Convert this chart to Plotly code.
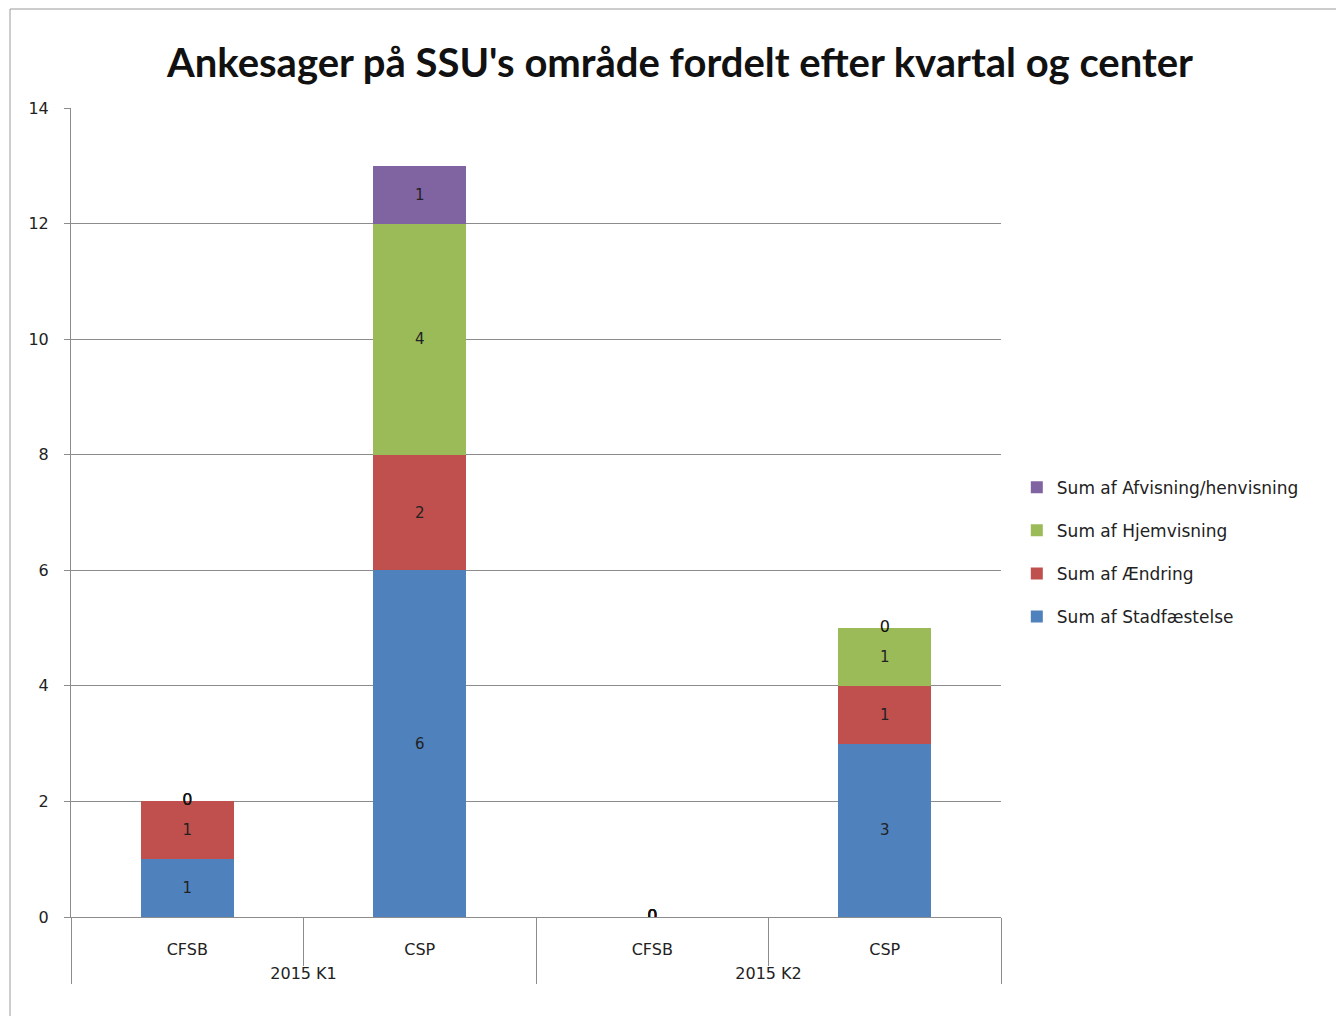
import plotly.graph_objects as go

quarters = ["2015 K1", "2015 K1", "2015 K2", "2015 K2"]
centers = ["CFSB", "CSP", "CFSB", "CSP"]
series_names = ["Sum af Stadfæstelse", "Sum af Ændring", "Sum af Hjemvisning", "Sum af Afvisning/henvisning"]
stadfaestelse = [1, 6, 0, 3]
aendring = [1, 2, 0, 1]
hjemvisning = [0, 4, 0, 1]
afvisning = [0, 1, 0, 0]
colors = ["#4F81BD", "#C0504D", "#9BBB59", "#8064A2"]
y_ticks = [0, 2, 4, 6, 8, 10, 12, 14]

series = [stadfaestelse, aendring, hjemvisning, afvisning]
FONT = "DejaVu Sans"
# an invisible first line pushes the group row down as in the Excel original
quarter_labels = ["<span style='color:rgba(0,0,0,0)'>.</span><br>" + q for q in quarters]
x = [quarter_labels, centers]

fig = go.Figure()
base = [0] * len(centers)
zero_x0, zero_x1, zero_y = [], [], []
n = len(series)
for k, (name, vals, col) in enumerate(zip(series_names, series, colors)):
    fig.add_trace(go.Bar(
        x=x, y=vals, name=name, marker=dict(color=col, line=dict(width=0)),
        text=[str(v) if v else "" for v in vals],
        textposition="inside", insidetextanchor="middle",
        textfont=dict(family=FONT, size=15, color="#222222"),
        legendgroup=name, legendrank=n - k, hoverinfo="skip",
    ))
    for i, v in enumerate(vals):
        if v == 0:
            zero_x0.append(quarter_labels[i]); zero_x1.append(centers[i]); zero_y.append(base[i])
    base = [b + v for b, v in zip(base, vals)]

fig.add_trace(go.Scatter(
    x=[zero_x0, zero_x1], y=zero_y, mode="text", text=["0"] * len(zero_y),
    textfont=dict(family=FONT, size=16, color="#111111"), showlegend=False, hoverinfo="skip",
))

fig.update_layout(
    width=1336, height=1008,
    barmode="stack", bargap=0.6,
    plot_bgcolor="white", paper_bgcolor="white",
    margin=dict(l=63, r=343, t=100, b=99),
    title=dict(text="<b>Ankesager på SSU's område fordelt efter kvartal og center</b>",
               x=0.503, xanchor="center", y=0.945, yanchor="middle",
               font=dict(family="Lato", size=40, color="#111111")),
    legend=dict(x=1.017, xanchor="left", y=0.451, yanchor="middle",
                traceorder="grouped", tracegroupgap=18,
                font=dict(family=FONT, size=17, color="#222222"),
                itemwidth=30),
    font=dict(family=FONT, size=15, color="#222222"),
    showlegend=True,
)
fig.update_yaxes(range=[0, 14], tickvals=y_ticks, showgrid=True, gridcolor="#8c8c8c", gridwidth=1,
                 showline=True, linecolor="#8c8c8c", ticks="outside", ticklen=6, tickcolor="#8c8c8c",
                 ticklabelstandoff=12,
                 zeroline=False, tickfont=dict(family=FONT, size=16, color="#222222"))
fig.update_xaxes(type="multicategory", showgrid=False, showline=True, linecolor="#8c8c8c",
                 ticks="outside", ticklen=48, tickcolor="#8c8c8c",
                 ticklabelstandoff=18,
                 showdividers=True, dividercolor="#8c8c8c", dividerwidth=1,
                 tickfont=dict(family=FONT, size=16, color="#222222"))

fig.add_shape(type="rect", xref="paper", yref="paper",
              x0=-61 / 930, x1=1340 / 930 - 71 / 930, y0=-0.3, y1=(917 - 9) / 809,
              line=dict(color="#9a9a9a", width=1))

fig.write_html("out.html")
